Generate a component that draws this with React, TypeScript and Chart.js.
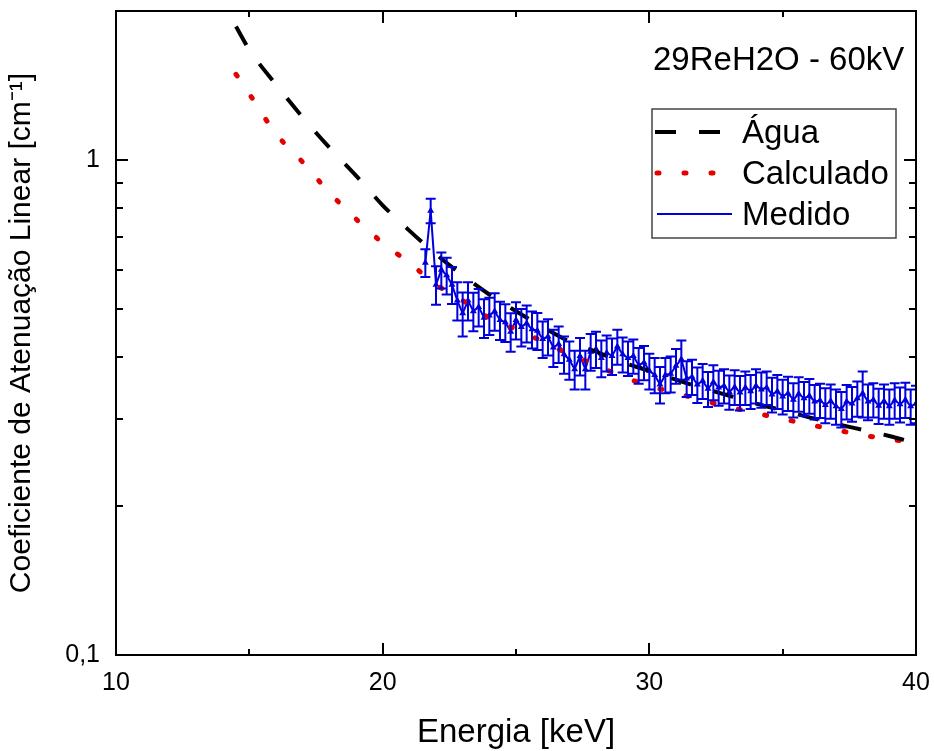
import React, { useEffect, useRef } from "react";
import { Chart, registerables } from "chart.js";
Chart.register(...registerables);

// ---- data ----
const aguaX = [14.5, 15, 16, 17, 18, 19, 20, 21, 22, 23, 24, 25, 26, 27, 28, 29, 30, 31, 32, 33, 34, 35, 36, 37, 38, 39, 40];
const aguaY = [1.86, 1.67, 1.42, 1.22, 1.06, 0.93, 0.81, 0.72, 0.645, 0.585, 0.535, 0.495, 0.46, 0.43, 0.41, 0.39, 0.375, 0.36, 0.346, 0.334, 0.322, 0.312, 0.302, 0.293, 0.285, 0.277, 0.268];

const calcX = [14.5, 15, 16, 17, 18, 19, 20, 21, 22, 23, 24, 25, 26, 27, 28, 29, 30, 31, 32, 33, 34, 35, 36, 37, 38, 39, 40];
const calcY = [1.49, 1.36, 1.13, 0.99, 0.86, 0.76, 0.68, 0.62, 0.56, 0.52, 0.48, 0.455, 0.43, 0.405, 0.385, 0.365, 0.35, 0.338, 0.327, 0.317, 0.308, 0.3, 0.292, 0.285, 0.278, 0.273, 0.268];

const medidoX = [
  21.6, 21.8, 22.0, 22.2, 22.4, 22.6, 22.8, 23.0, 23.2, 23.4, 23.6, 23.8, 24.0, 24.2, 24.4, 24.6, 24.8,
  25.0, 25.2, 25.4, 25.6, 25.8, 26.0, 26.2, 26.4, 26.6, 26.8, 27.0, 27.2, 27.4, 27.6, 27.8,
  28.0, 28.2, 28.4, 28.6, 28.8, 29.0, 29.2, 29.4, 29.6, 29.8, 30.0, 30.2, 30.4, 30.6, 30.8,
  31.0, 31.2, 31.4, 31.6, 31.8, 32.0, 32.2, 32.4, 32.6, 32.8, 33.0, 33.2, 33.4, 33.6, 33.8,
  34.0, 34.2, 34.4, 34.6, 34.8, 35.0, 35.2, 35.4, 35.6, 35.8, 36.0, 36.2, 36.4, 36.6, 36.8,
  37.0, 37.2, 37.4, 37.6, 37.8, 38.0, 38.2, 38.4, 38.6, 38.8, 39.0, 39.2, 39.4, 39.6, 39.8, 40.0,
];
const medidoY = [
  0.62, 0.79, 0.56, 0.6, 0.585, 0.56, 0.52, 0.49, 0.52, 0.495, 0.505, 0.48, 0.485, 0.495, 0.475, 0.47, 0.45,
  0.475, 0.46, 0.468, 0.455, 0.452, 0.435, 0.44, 0.418, 0.425, 0.405, 0.395, 0.378, 0.402, 0.378, 0.41,
  0.415, 0.398, 0.408, 0.402, 0.42, 0.405, 0.398, 0.402, 0.385, 0.39, 0.375, 0.368, 0.352, 0.368, 0.37,
  0.384, 0.396, 0.362, 0.365, 0.352, 0.358, 0.345, 0.356, 0.347, 0.35, 0.34, 0.348, 0.339, 0.347, 0.341,
  0.35, 0.344, 0.347, 0.336, 0.341, 0.333, 0.338, 0.328, 0.337, 0.33, 0.334, 0.325, 0.327, 0.32, 0.326,
  0.318, 0.314, 0.325, 0.322, 0.33, 0.338, 0.325, 0.328, 0.319, 0.326, 0.318, 0.327, 0.321, 0.328, 0.318, 0.322,
];
const medidoErr = [
  0.04, 0.045, 0.05, 0.05, 0.05, 0.048, 0.046, 0.05, 0.046, 0.044, 0.044, 0.043, 0.042, 0.043, 0.042, 0.041, 0.04,
  0.041, 0.04, 0.04, 0.039, 0.039, 0.037, 0.037, 0.036, 0.036, 0.035, 0.035, 0.034, 0.035, 0.034, 0.035,
  0.035, 0.034, 0.034, 0.034, 0.034, 0.033, 0.032, 0.032, 0.032, 0.031, 0.031, 0.03, 0.03, 0.03, 0.031,
  0.031, 0.036, 0.03, 0.03, 0.029, 0.029, 0.028, 0.029, 0.028, 0.028, 0.027, 0.028, 0.027, 0.027, 0.027,
  0.028, 0.028, 0.027, 0.027, 0.027, 0.027, 0.027, 0.026, 0.027, 0.026, 0.027, 0.026, 0.026, 0.026, 0.026,
  0.026, 0.026, 0.026, 0.026, 0.027, 0.036, 0.027, 0.026, 0.026, 0.026, 0.026, 0.027, 0.026, 0.027, 0.026, 0.028,
];

const seriesLabels = ["Água", "Calculado", "Medido"];
const xMajorTicks = [10, 20, 30, 40];
const xMinorTicks = [15, 25, 35];
const yMajorTicks = [0.1, 1];
const yMinorTicks = [0.2, 0.3, 0.4, 0.5, 0.6, 0.7, 0.8, 0.9, 2];
const yTickText: Record<string, string> = { "0.1": "0,1", "1": "1" };
const annotationText = "29ReH2O - 60kV";
const xTitle = "Energia [keV]";
const yTitle = "Coeficiente de Atenuação Linear [cm⁻¹]";

const FONT = '"Liberation Sans", Arial, sans-serif';
const RED = "#e50000";
const BLUE = "#0000dc";

const overlayPlugin = {
  id: "overlay",
  afterDatasetsDraw(chart: any) {
    const ctx = chart.ctx;
    const area = chart.chartArea;
    const xs = chart.scales.x;
    const ys = chart.scales.y;

    // error bars
    ctx.save();
    ctx.beginPath();
    ctx.rect(area.left, area.top, area.right - area.left, area.bottom - area.top);
    ctx.clip();
    ctx.strokeStyle = BLUE;
    ctx.lineWidth = 2;
    for (let i = 0; i < medidoX.length; i++) {
      const px = xs.getPixelForValue(medidoX[i]);
      const pTop = ys.getPixelForValue(medidoY[i] + medidoErr[i]);
      const pBot = ys.getPixelForValue(medidoY[i] - medidoErr[i]);
      ctx.beginPath();
      ctx.moveTo(px, pTop);
      ctx.lineTo(px, pBot);
      ctx.moveTo(px - 5, pTop);
      ctx.lineTo(px + 5, pTop);
      ctx.moveTo(px - 5, pBot);
      ctx.lineTo(px + 5, pBot);
      ctx.stroke();
    }
    ctx.restore();

    // frame
    ctx.save();
    ctx.strokeStyle = "#000";
    ctx.lineWidth = 2;
    ctx.strokeRect(area.left, area.top, area.right - area.left, area.bottom - area.top);
    ctx.beginPath();
    const xt = (vals: number[], len: number) => {
      for (const v of vals) {
        const p = Math.round(xs.getPixelForValue(v));
        ctx.moveTo(p, area.bottom);
        ctx.lineTo(p, area.bottom - len);
        ctx.moveTo(p, area.top);
        ctx.lineTo(p, area.top + len);
      }
    };
    const yt = (vals: number[], len: number) => {
      for (const v of vals) {
        const p = Math.round(ys.getPixelForValue(v));
        ctx.moveTo(area.left, p);
        ctx.lineTo(area.left + len, p);
        ctx.moveTo(area.right, p);
        ctx.lineTo(area.right - len, p);
      }
    };
    xt(xMajorTicks, 12);
    xt(xMinorTicks, 6);
    yt(yMajorTicks, 12);
    yt(yMinorTicks, 7);
    ctx.stroke();
    ctx.restore();

    // annotation
    ctx.save();
    ctx.fillStyle = "#000";
    ctx.font = `33px ${FONT}`;
    ctx.textAlign = "left";
    ctx.textBaseline = "alphabetic";
    ctx.fillText(annotationText, 653, 70);
    ctx.restore();

    // legend
    ctx.save();
    ctx.fillStyle = "#fff";
    ctx.fillRect(652, 109, 244, 129);
    ctx.strokeStyle = "#444";
    ctx.lineWidth = 1.5;
    ctx.strokeRect(652, 109, 244, 129);
    const ds = chart.data.datasets;
    const rows = [132, 173, 214];
    for (let i = 0; i < 3; i++) {
      const d = ds[i];
      const y = rows[i];
      ctx.save();
      ctx.strokeStyle = d.borderColor;
      ctx.lineWidth = d.borderWidth;
      ctx.lineCap = d.borderCapStyle || "butt";
      ctx.setLineDash(d.borderDash || []);
      ctx.beginPath();
      if (i === 1) {
        ctx.moveTo(657, y);
        ctx.lineTo(720, y);
      } else if (i === 0) {
        ctx.moveTo(655, y);
        ctx.lineTo(725, y);
      } else {
        ctx.moveTo(657, y);
        ctx.lineTo(732, y);
      }
      ctx.stroke();
      ctx.restore();
      ctx.fillStyle = "#000";
      ctx.font = `33px ${FONT}`;
      ctx.textBaseline = "alphabetic";
      ctx.fillText(d.label, 742, y + 11);
    }
    ctx.restore();
  },
};

export default function App() {
  const ref = useRef<HTMLCanvasElement | null>(null);
  useEffect(() => {
    if (!ref.current) return;
    Chart.defaults.font.family = FONT;
    const chart = new Chart(ref.current, {
      type: "line",
      data: {
        datasets: [
          {
            label: seriesLabels[0],
            data: aguaX.map((x, i) => ({ x, y: aguaY[i] })),
            borderColor: "#000",
            borderWidth: 4,
            borderDash: [21, 23],
            pointRadius: 0,
            cubicInterpolationMode: "monotone",
            fill: false,
          },
          {
            label: seriesLabels[1],
            data: calcX.map((x, i) => ({ x, y: calcY[i] })),
            borderColor: RED,
            borderWidth: 5,
            borderDash: [2, 25],
            borderCapStyle: "round",
            pointRadius: 0,
            cubicInterpolationMode: "monotone",
            fill: false,
          },
          {
            label: seriesLabels[2],
            data: medidoX.map((x, i) => ({ x, y: medidoY[i] })),
            borderColor: BLUE,
            backgroundColor: BLUE,
            borderWidth: 2,
            pointRadius: 2,
            pointStyle: "triangle",
            tension: 0,
            fill: false,
          },
        ],
      } as any,
      options: {
        animation: false,
        responsive: false,
        devicePixelRatio: 1,
        layout: { padding: { top: 11, right: 18, left: 0, bottom: 0 } },
        plugins: { legend: { display: false }, tooltip: { enabled: false } },
        scales: {
          x: {
            type: "linear",
            min: 10,
            max: 40,
            afterBuildTicks: (s: any) => {
              s.ticks = xMajorTicks.map((v) => ({ value: v }));
            },
            afterFit: (s: any) => {
              s.height = 96;
              s.paddingLeft = 0;
              s.paddingRight = 0;
            },
            grid: { display: false },
            border: { display: false },
            ticks: { color: "#000", font: { size: 25 }, padding: 5, autoSkip: false, maxRotation: 0 },
            title: {
              display: true,
              text: xTitle,
              color: "#000",
              font: { size: 33, lineHeight: 1 },
              padding: { top: 0, bottom: 1.5 },
            },
          },
          y: {
            type: "logarithmic",
            min: 0.1,
            max: 2,
            afterBuildTicks: (s: any) => {
              s.ticks = [...yMajorTicks, ...yMinorTicks].sort((a, b) => a - b).map((v) => ({ value: v }));
            },
            afterFit: (s: any) => {
              s.width = 116;
              s.paddingTop = 0;
              s.paddingBottom = 0;
            },
            grid: { display: false },
            border: { display: false },
            ticks: {
              color: "#000",
              font: { size: 25 },
              padding: 8,
              autoSkip: false,
              callback: (v: any) => yTickText[String(v)] ?? "",
            },
            title: {
              display: true,
              text: yTitle,
              color: "#000",
              font: { size: 30, lineHeight: 1 },
              padding: { top: 7, bottom: 0 },
            },
          },
        },
      } as any,
      plugins: [overlayPlugin],
    });
    return () => chart.destroy();
  }, []);
  return (
    <div style={{ position: "absolute", left: 0, top: 0, width: 934, height: 751, background: "#fff" }}>
      <canvas ref={ref} width={934} height={751} style={{ width: 934, height: 751 }} />
    </div>
  );
}
